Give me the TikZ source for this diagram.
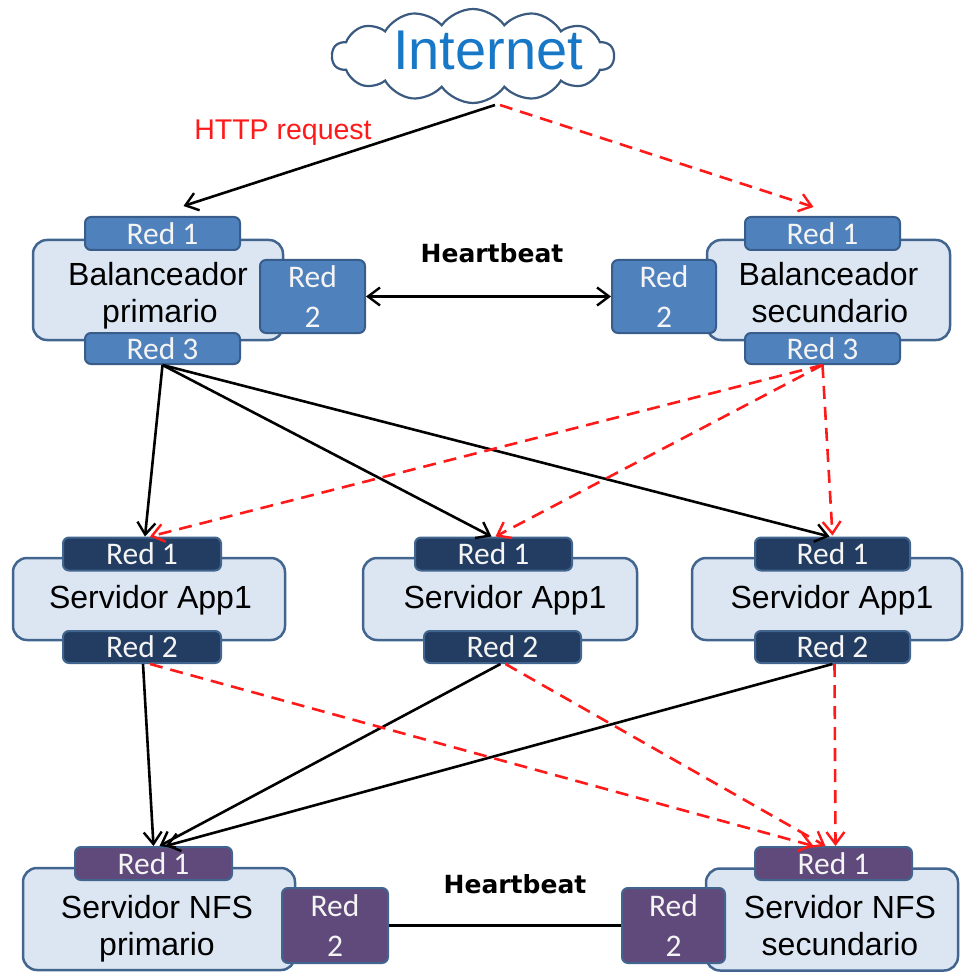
\documentclass[tikz,border=0pt]{standalone}
\usepackage{fontspec}
\setmainfont{Liberation Sans}
\newfontfamily\calib{Carlito}
\newfontfamily\dvb{DejaVu Sans}
\usetikzlibrary{shapes.symbols,arrows.meta}
\definecolor{boxfill}{HTML}{DCE6F2}
\definecolor{boxline}{HTML}{41658F}
\definecolor{balfill}{HTML}{4F81BD}
\definecolor{balline}{HTML}{385D8A}
\definecolor{appfill}{HTML}{233D62}
\definecolor{nfsfill}{HTML}{604A7B}
\definecolor{tagtext}{HTML}{F4F4F4}
\definecolor{inetblue}{HTML}{1878C8}
\definecolor{cloudline}{HTML}{3A5A80}
\definecolor{dashred}{HTML}{FF1A1A}
\tikzset{
  mainbox/.style={draw=boxline, fill=boxfill, line width=2.5pt, rounded corners=14pt, inner sep=0pt},
  tagbox/.style={draw=boxline, line width=2pt, rounded corners=6pt, inner sep=0pt,
    text=tagtext, font=\calib\fontsize{31.5}{40}\selectfont, align=center},
  baltag/.style={tagbox, fill=balfill, draw=balline},
  apptag/.style={tagbox, fill=appfill},
  nfstag/.style={tagbox, fill=nfsfill},
  boxtext/.style={anchor=base, inner sep=0pt, font=\fontsize{32}{37}\selectfont, text=black},
  hbtext/.style={anchor=base, inner sep=0pt, font=\dvb\bfseries\fontsize{25}{28}\selectfont},
  conn/.style={line width=2.6pt, black, -{Straight Barb[length=12pt,width=18pt,line width=2.4pt]}},
  rconn/.style={line width=2.6pt, dashred, dash pattern=on 13pt off 8pt, -{Straight Barb[length=12pt,width=18pt,line width=2.4pt]}}
}
\begin{document}
\begin{tikzpicture}[x=1pt,y=-1pt]
\useasboundingbox (0,0) rectangle (964,973);
% cloud
\node[cloud, cloud puffs=14, cloud puff arc=110, aspect=3.3, draw=cloudline, line width=2.2pt, fill=white,
  minimum width=282pt, minimum height=94pt, inner sep=0pt] (cloud) at (473,56) {};
\node[anchor=base, inner sep=0pt, text=inetblue, font=\fontsize{56}{60}\selectfont] (inet) at (488,70) {Internet};
\coordinate (c1) at (495,105);
\coordinate (c2) at (500,105);
\node[anchor=base, inner sep=0pt, text=dashred, font=\fontsize{28.5}{30}\selectfont] (http) at (283,140) {HTTP request};

% Balanceador primario
\node[mainbox, minimum width=250pt, minimum height=100pt] (bp) at (158,290) {};
\node[baltag, minimum width=155pt, minimum height=33pt] (bpr1) at (162.5,233.5) {Red 1};
\node[baltag, minimum width=105pt, minimum height=73pt] (bpr2) at (312.5,296.5) {Red\\2};
\node[baltag, minimum width=155pt, minimum height=31pt] (bpr3) at (162.5,348.5) {Red 3};
\node[boxtext] (bpt1) at (158,285) {Balanceador};
\node[boxtext] (bpt2) at (160,322) {primario};

% Balanceador secundario
\node[mainbox, minimum width=243pt, minimum height=100pt] (bs) at (828.5,290) {};
\node[baltag, minimum width=155pt, minimum height=33pt] (bsr1) at (822.5,233.5) {Red 1};
\node[baltag, minimum width=104pt, minimum height=73pt] (bsr2) at (664,296.5) {Red\\2};
\node[baltag, minimum width=155pt, minimum height=31pt] (bsr3) at (822.5,348.5) {Red 3};
\node[boxtext] (bst1) at (828.5,285) {Balanceador};
\node[boxtext] (bst2) at (830,322) {secundario};

\node[hbtext] (hb1) at (492,263) {Heartbeat};

% App servers
\node[mainbox, minimum width=272pt, minimum height=82pt] (a1) at (149,599) {};
\node[apptag, minimum width=158pt, minimum height=33pt] (a1r1) at (142,554) {Red 1};
\node[apptag, minimum width=158pt, minimum height=32pt] (a1r2) at (142,647) {Red 2};
\node[boxtext] (a1t) at (150.5,608) {Servidor App1};

\node[mainbox, minimum width=274pt, minimum height=82pt] (a2) at (500,599) {};
\node[apptag, minimum width=157pt, minimum height=33pt] (a2r1) at (493.5,554) {Red 1};
\node[apptag, minimum width=157pt, minimum height=32pt] (a2r2) at (502.5,647) {Red 2};
\node[boxtext] (a2t) at (505,608) {Servidor App1};

\node[mainbox, minimum width=270pt, minimum height=82pt] (a3) at (827,599) {};
\node[apptag, minimum width=155pt, minimum height=33pt] (a3r1) at (832.5,554) {Red 1};
\node[apptag, minimum width=155pt, minimum height=32pt] (a3r2) at (832.5,647) {Red 2};
\node[boxtext] (a3t) at (832,608) {Servidor App1};

% NFS primario
\node[mainbox, minimum width=272pt, minimum height=102pt] (np) at (159,919) {};
\node[nfstag, minimum width=157pt, minimum height=33pt] (npr1) at (153.5,863.5) {Red 1};
\node[nfstag, minimum width=106pt, minimum height=75pt] (npr2) at (335,925.5) {Red\\2};
\node[boxtext] (npt1) at (157,918) {Servidor NFS};
\node[boxtext] (npt2) at (157,955) {primario};

% NFS secundario
\node[mainbox, minimum width=252pt, minimum height=102pt] (ns) at (832,919.5) {};
\node[nfstag, minimum width=157pt, minimum height=33pt] (nsr1) at (833.5,863.5) {Red 1};
\node[nfstag, minimum width=103pt, minimum height=75pt] (nsr2) at (673.5,925.5) {Red\\2};
\node[boxtext] (nst1) at (840,918) {Servidor NFS};
\node[boxtext] (nst2) at (840,955) {secundario};

\node[hbtext] (hb2) at (515,893) {Heartbeat};

% connectors
\draw[conn] (c1) -- ([xshift=21pt,yshift=10pt]bpr1.north);
\draw[rconn] (c2) -- ([xshift=-9pt,yshift=9pt]bsr1.north);
\draw[line width=2.6pt, {Straight Barb[length=12pt,width=18pt,line width=2.4pt]}-{Straight Barb[length=12pt,width=18pt,line width=2.4pt]}] (bpr2.east) -- (bsr2.west);
\draw[line width=2.6pt] (npr2.east) -- (nsr2.west);

\draw[conn] (bpr3.south) -- ([xshift=3pt]a1r1.north);
\draw[conn] (bpr3.south) -- ([xshift=-2pt]a2r1.north);
\draw[conn] (bpr3.south) -- ([xshift=-3pt]a3r1.north);
\draw[rconn] (bsr3.south) -- ([xshift=8pt]a1r1.north);
\draw[rconn] (bsr3.south) -- ([xshift=2pt]a2r1.north);
\draw[rconn] (bsr3.south) -- ([xshift=0pt,yshift=1pt]a3r1.north);

\draw[conn] ([xshift=1pt]a1r2.south) -- ([xshift=0pt]npr1.north);
\draw[conn] ([xshift=-2pt]a2r2.south) -- ([xshift=6pt]npr1.north);
\draw[conn] (a3r2.south) -- ([xshift=12pt]npr1.north);
\draw[rconn] ([xshift=8pt]a1r2.south) -- ([xshift=-20pt]nsr1.north);
\draw[rconn] ([xshift=3pt]a2r2.south) -- ([xshift=-8pt]nsr1.north);
\draw[rconn] ([xshift=2pt]a3r2.south) -- ([xshift=2pt]nsr1.north);
\end{tikzpicture}
\end{document}
